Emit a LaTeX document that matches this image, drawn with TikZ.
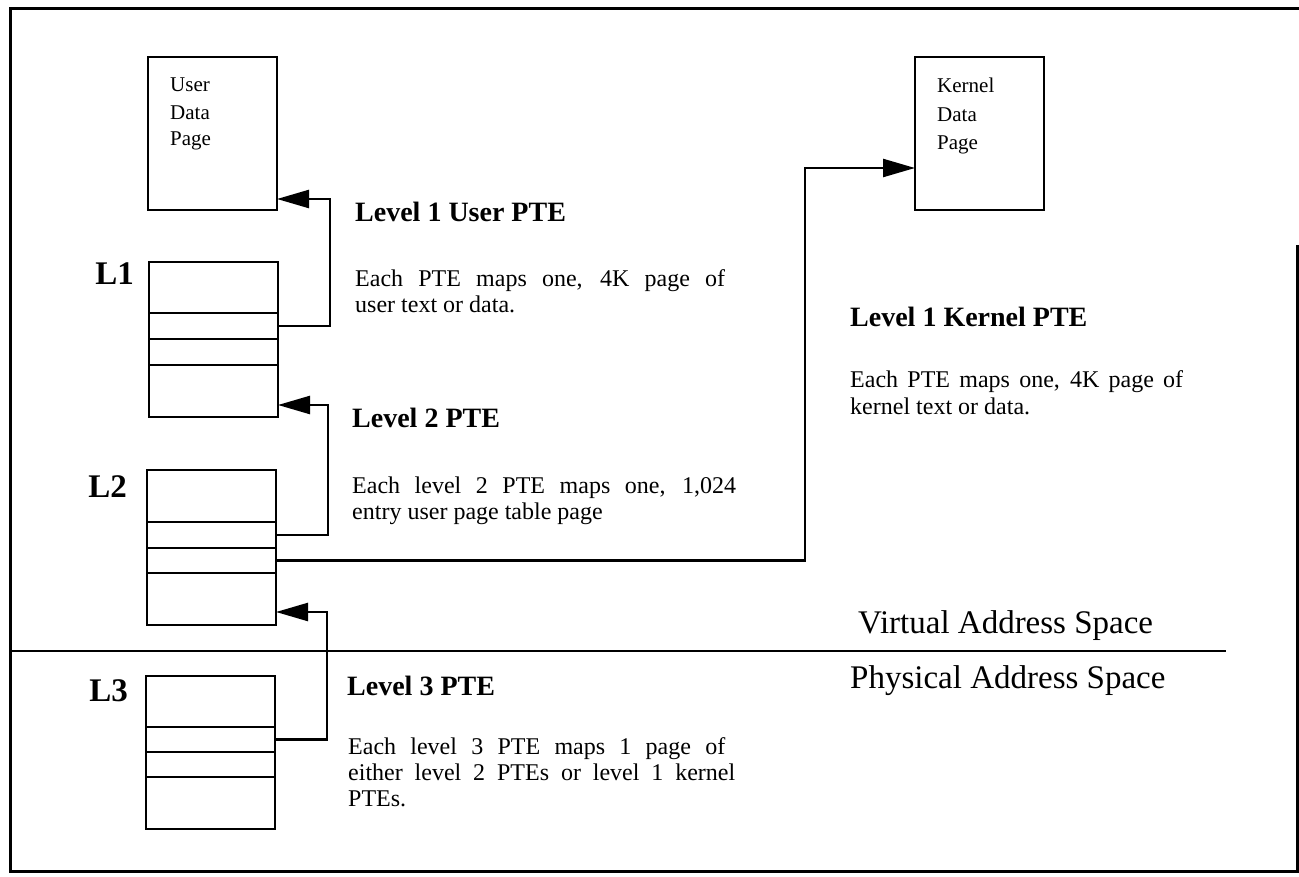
\documentclass[tikz,border=0pt]{standalone}
\usepackage{fontspec}
\setmainfont{Liberation Serif}
\usetikzlibrary{arrows.meta}
\begin{document}
\begin{tikzpicture}[x=1pt,y=-1pt,
  lw/.style={line width=2.4pt},
  row/.style={draw,lw,rectangle,inner sep=0pt,outer sep=0pt,minimum width=129pt,anchor=north west},
  pagebox/.style={draw,lw,rectangle,inner sep=0pt,outer sep=0pt,minimum width=129pt,minimum height=153pt,anchor=north west},
  conn/.style={lw,-{Triangle[length=32pt,width=18pt]}},
  head/.style={anchor=base west,inner sep=0pt,font=\fontsize{28}{32}\selectfont\bfseries},
  body/.style={anchor=base west,inner sep=0pt,font=\fontsize{24}{26}\selectfont},
  lab/.style={anchor=base east,inner sep=0pt,font=\fontsize{33}{36}\selectfont\bfseries},
  pagetext/.style={anchor=base west,inner sep=0pt,font=\fontsize{21}{27}\selectfont},
  spacetext/.style={anchor=base west,inner sep=0pt,font=\fontsize{33}{36}\selectfont}]
\useasboundingbox (0,0) rectangle (1299,877);

% frame
\coordinate (f1) at (1297,245);
\coordinate (f2) at (1297,871);
\coordinate (f3) at (10,871);
\coordinate (f4) at (10,9);
\coordinate (f5) at (1299,9);
\draw[line width=3pt] (f1) -- (f2) -- (f3) -- (f4) -- (f5);

% divider
\coordinate (d1) at (10,651);
\coordinate (d2) at (1226,651);
\draw[lw] (d1) -- (d2);

% data pages
\node[pagebox] (udp) at (148,57) {};
\node[pagetext] (udp1) at (170,92) {User};
\node[pagetext] (udp2) at (170,120) {Data};
\node[pagetext] (udp3) at (170,146) {Page};

\node[pagebox] (kdp) at (915,57) {};
\node[pagetext] (kdp1) at (937,93) {Kernel};
\node[pagetext] (kdp2) at (937,122) {Data};
\node[pagetext] (kdp3) at (937,150) {Page};

% L1 table
\node[row,minimum height=51pt] (l1a) at (149,262) {};
\node[row,minimum height=26pt] (l1b) at (149,313) {};
\node[row,minimum height=26pt] (l1c) at (149,339) {};
\node[row,minimum height=52pt] (l1d) at (149,365) {};
\node[lab] (L1) at (134,285) {L1};

% L2 table
\node[row,minimum height=52pt] (l2a) at (147,470) {};
\node[row,minimum height=26pt] (l2b) at (147,522) {};
\node[row,minimum height=25pt] (l2c) at (147,548) {};
\node[row,minimum height=52pt] (l2d) at (147,573) {};
\node[lab] (L2) at (127,497) {L2};

% L3 table
\node[row,minimum height=51pt] (l3a) at (146,676) {};
\node[row,minimum height=25pt] (l3b) at (146,727) {};
\node[row,minimum height=25pt] (l3c) at (146,752) {};
\node[row,minimum height=52pt] (l3d) at (146,777) {};
\node[lab] (L3) at (128,701) {L3};

% connectors
\coordinate (j1) at (330,199);
\draw[conn] (l1b.east) -| (j1) -- ([yshift=11pt]udp.south east);
\coordinate (j2) at (328,405);
\draw[conn] (l2b.east) -| (j2) -- ([yshift=12pt]l1d.south east);
\coordinate (j3) at (805,168);
\draw[conn] (l2c.east) -| (j3) -- ([yshift=42pt]kdp.south west);
\coordinate (j4) at (327,612);
\draw[conn] (l3b.east) -| (j4) -- ([yshift=13pt]l2d.south east);

% texts
\node[head] (h1) at (355,222) {Level 1 User PTE};
\node[body] (b1a) at (355,287) {\makebox[370pt][s]{Each PTE maps one, 4K page of}};
\node[body] (b1b) at (355,313) {user text or data.};

\node[head] (h2) at (352,428) {Level 2 PTE};
\node[body] (b2a) at (352,493) {\makebox[384pt][s]{Each level 2 PTE maps one, 1,024}};
\node[body] (b2b) at (352,519) {entry user page table page};

\node[head] (hk) at (850,327) {Level 1 Kernel PTE};
\node[body] (bka) at (850,388) {\makebox[333pt][s]{Each PTE maps one, 4K page of}};
\node[body] (bkb) at (850,414) {kernel text or data.};

\node[head] (h3) at (347,695) {Level 3 PTE};
\node[body] (b3a) at (348,754) {\makebox[377pt][s]{Each level 3 PTE maps 1 page of}};
\node[body] (b3b) at (348,780) {\makebox[387pt][s]{either level 2 PTEs or level 1 kernel}};
\node[body] (b3c) at (348,806) {PTEs.};

\node[spacetext] (vas) at (858,633) {Virtual Address Space};
\node[spacetext] (pas) at (850,688) {Physical Address Space};
\end{tikzpicture}
\end{document}
